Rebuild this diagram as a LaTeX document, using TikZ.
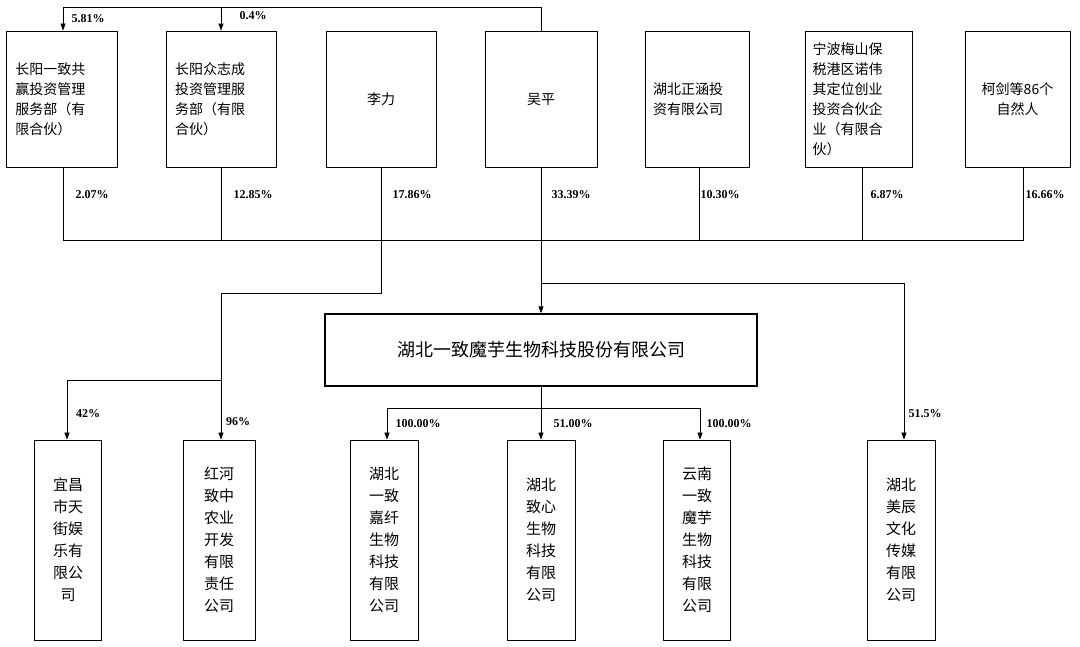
\documentclass[tikz,border=0pt]{standalone}
\usepackage{fontspec}
\setmainfont{Liberation Serif}
\newfontfamily\cjk{Noto Sans CJK SC}
\usetikzlibrary{arrows.meta}
\begin{document}
\begin{tikzpicture}[x=1pt,y=-1pt,
  box/.style={draw,line width=0.8pt,inner sep=0pt,font=\cjk\fontsize{14}{20}\selectfont},
  pct/.style={font=\bfseries\fontsize{12}{14}\selectfont,inner sep=1pt},
  ln/.style={draw,line width=0.7pt},
  ar/.style={ln,-{Triangle[length=7pt,width=5pt]}}]
\useasboundingbox (0,0) rectangle (1080,647);
% top boxes
\node[box,minimum width=111,minimum height=136,text width=92,align=left] (b1) at (61.5,99) {长阳一致共\\赢投资管理\\服务部（有\\限合伙）};
\node[box,minimum width=110,minimum height=136,text width=92,align=left] (b2) at (221,99) {长阳众志成\\投资管理服\\务部（有限\\合伙）};
\node[box,minimum width=110,minimum height=136] (b3) at (381,99) {李力};
\node[box,minimum width=112,minimum height=136] (b4) at (541,99) {吴平};
\node[box,minimum width=104,minimum height=136,text width=88,align=left] (b5) at (697,99) {湖北正涵投\\资有限公司};
\node[box,minimum width=107,minimum height=136,text width=92,align=left] (b6) at (858.5,99) {宁波梅山保\\税港区诺伟\\其定位创业\\投资合伙企\\业（有限合\\伙）};
\node[box,minimum width=105,minimum height=136,text width=90,align=center] (b7) at (1017.5,99) {柯剑等86个\\自然人};
% main
\node[box,line width=1.4pt,minimum width=432,minimum height=72,font=\cjk\fontsize{18}{20}\selectfont] (m) at (541,350) {湖北一致魔芋生物科技股份有限公司};
% bottom boxes
\foreach \n/\x/\w/\t in {c1/68/67/{宜昌\\市天\\街娱\\乐有\\限公\\司},c2/219/72/{红河\\致中\\农业\\开发\\有限\\责任\\公司},c3/384/68/{湖北\\一致\\嘉纤\\生物\\科技\\有限\\公司},c4/541/68/{湖北\\致心\\生物\\科技\\有限\\公司},c5/697/67/{云南\\一致\\魔芋\\生物\\科技\\有限\\公司},c6/901/68/{湖北\\美辰\\文化\\传媒\\有限\\公司}}
  \node[box,minimum width=\w,minimum height=200,align=center,font=\cjk\fontsize{15}{22}\selectfont] (\n) at (\x,540) {\t};
% bus
\coordinate (busL) at (63,240);
\coordinate (busR) at (1023,240);
\draw[ln] (b1.south -| 63,0) -- (busL) -- (busR) -- (b7.south -| 1023,0);
\foreach \b/\x in {b2/221,b5/699,b6/862}
  \draw[ln] (\b.south -| \x,0) -- (\x,240);
\draw[ln] (b3.south) -- (381,293) -- (221,293) -- (221,380);
\draw[ar] (221,380) -- (c2.north -| 221,0);
\draw[ar] (221,380) -- (67,380) -- (c1.north -| 67,0);
\draw[ar] (b4.south) -- (m.north);
\draw[ar] (541,283) -- (904,283) -- (c6.north -| 904,0);
\draw[ar] (m.south) -- (c4.north);
\draw[ar] (541,408) -- (387,408) -- (c3.north -| 387,0);
\draw[ar] (541,408) -- (700,408) -- (c5.north -| 700,0);
% top arrows
\draw[ar] (b4.north) -- (541,7) -- (63,7) -- (b1.north -| 63,0);
\draw[ar] (221,7) -- (b2.north);
% labels
\node[pct] (p1) at (88,19) {5.81\%};
\node[pct] (p2) at (253,16) {0.4\%};
\node[pct] at (92,195) {2.07\%};
\node[pct] at (253,195) {12.85\%};
\node[pct] at (412,195) {17.86\%};
\node[pct] at (571,195) {33.39\%};
\node[pct] at (720,195) {10.30\%};
\node[pct] at (887,195) {6.87\%};
\node[pct] at (1045,195) {16.66\%};
\node[pct] at (88,414) {42\%};
\node[pct] at (238,422) {96\%};
\node[pct] at (418,424) {100.00\%};
\node[pct] at (573,424) {51.00\%};
\node[pct] at (729,424) {100.00\%};
\node[pct] at (925,414) {51.5\%};
\end{tikzpicture}
\end{document}
